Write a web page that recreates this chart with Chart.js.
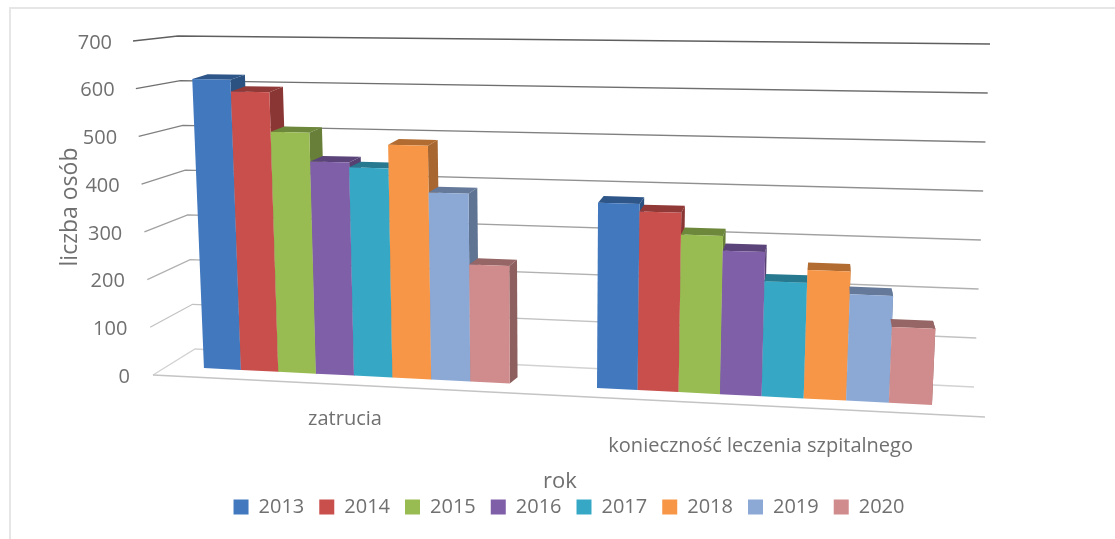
<!DOCTYPE html>
<html><head><meta charset="utf-8">
<style>html,body{margin:0;padding:0;background:#fff}canvas{display:block}</style>
<script src="https://cdn.jsdelivr.net/npm/chart.js@4"></script>
</head><body><canvas id="c" width="1115" height="539"></canvas>
<script>
const categories = ['zatrucia', 'konieczność leczenia szpitalnego'];
const years = ['2013','2014','2015','2016','2017','2018','2019','2020'];
const v2013 = [602, 370];
const v2014 = [578, 355];
const v2015 = [496, 312];
const v2016 = [437, 283];
const v2017 = [427, 226];
const v2018 = [475, 251];
const v2019 = [380, 207];
const v2020 = [237, 147];
const seriesValues = [v2013, v2014, v2015, v2016, v2017, v2018, v2019, v2020];
const colors = ['#4178BE','#C94F4C','#98BB52','#7F5FA8','#36A8C6','#F79646','#8CA9D6','#D08C8C'];

const FONT = '"Open Sans", sans-serif';
const TEXT = '#707070';

function shade(hex, f){
  const n = parseInt(hex.slice(1),16);
  return 'rgb('+[(n>>16)&255,(n>>8)&255,n&255].map(c=>Math.round(c*f)).join(',')+')';
}
// perspective view of the flat library layout
const floorX = u => 27.4 + 0.8763*u + 0.0001118*u*u;
const floorY = X => 368 + 0.0508*(X-204);
function project(u, hFlat){
  const X = floorX(u);
  const h = hFlat*(1+(X-153)*0.0001117);
  return [X+(X-550)*0.000117*h, floorY(X)-h];
}
const depth = p => [p[0]+20-0.024*p[0], p[1]-(5+0.004*(p[0]-200))];
function poly(ctx, pts, fill){
  ctx.beginPath();
  pts.forEach((p,i)=> i?ctx.lineTo(p[0],p[1]):ctx.moveTo(p[0],p[1]));
  ctx.closePath();
  ctx.fillStyle = fill; ctx.fill();
}
Chart.BarElement.prototype.draw = function(ctx){
  const {x,y,base,width} = this.getProps(['x','y','base','width'], true);
  const col = this.options.backgroundColor;
  const hf = base-y, l = x-width/2, r = x+width/2;
  const lb = project(l,0), rb = project(r,0), lt = project(l,hf), rt = project(r,hf);
  poly(ctx,[rt,rb,depth(rb),depth(rt)],shade(col,0.68));
  poly(ctx,[lt,rt,depth(rt),depth(lt)],shade(col,0.72));
  poly(ctx,[lt,rt,rb,lb],col);
};
const scene = {
  id:'scene',
  afterLayout(chart){
    chart.legend.left += 57; chart.legend.right += 57;
  },
  beforeDraw(chart){
    const c = chart.ctx;
    c.save();
    c.fillStyle='#fff'; c.fillRect(0,0,chart.width,chart.height);
    c.strokeStyle='#e6e6e6'; c.lineWidth=2;
    c.beginPath(); c.moveTo(10,539); c.lineTo(10,8); c.lineTo(1115,8); c.stroke();
    c.restore();
  },
  beforeDatasetsDraw(chart){
    const c = chart.ctx, ys = chart.scales.y, xs = chart.scales.x;
    const bottom = ys.getPixelForValue(0), top = ys.getPixelForValue(ys.max);
    c.save();
    ys.ticks.forEach(tk=>{
      const t = (bottom-ys.getPixelForValue(tk.value))/(bottom-top);
      const g = Math.round(95+115*(1-t));
      c.strokeStyle = 'rgb('+g+','+g+','+g+')'; c.lineWidth = 1.3;
      c.beginPath();
      c.moveTo(153-20*t, ys.getPixelForValue(tk.value)+1);
      c.lineTo(195-17*t, 349-313*t);
      c.lineTo(974+16*t, 387-343*t);
      c.stroke();
      c.fillStyle = TEXT; c.font = '20px '+FONT;
      c.textAlign='right'; c.textBaseline='middle';
      c.fillText(String(tk.value), 130-18*t, ys.getPixelForValue(tk.value)+3);
    });
    c.strokeStyle='#c4c4c4'; c.lineWidth=1.3;
    c.beginPath(); c.moveTo(153,375); c.lineTo(985,417); c.stroke();
    // category labels follow the sloped floor
    c.fillStyle = TEXT; c.font='20px '+FONT; c.textAlign='center'; c.textBaseline='middle';
    categories.forEach((name,i)=>{
      const X = floorX(xs.getPixelForTick(i));
      c.fillText(name, i? X-1 : X-9, i? 446 : 419);
    });
    for(let i=0;i<chart.data.datasets.length;i++) chart.getDatasetMeta(i).controller.draw();
    c.restore();
    return false;
  }
};
new Chart(document.getElementById('c'),{
  type:'bar',
  data:{labels:categories,datasets:years.map((y,i)=>({label:y,data:seriesValues[i],backgroundColor:colors[i],borderWidth:0}))},
  plugins:[scene],
  options:{
    responsive:false,animation:false,devicePixelRatio:1,
    layout:{padding:{left:57,right:148,top:40,bottom:12}},
    datasets:{bar:{barPercentage:1,categoryPercentage:0.786}},
    plugins:{
      tooltip:{enabled:false},
      legend:{position:'bottom',labels:{boxWidth:15,boxHeight:15,padding:15,color:TEXT,font:{family:FONT,size:20}}}
    },
    scales:{
      x:{grid:{display:false},border:{display:false},ticks:{display:false},
         title:{display:true,text:'rok',color:TEXT,font:{family:FONT,size:22},padding:{top:0,bottom:-13}},
         afterFit(s){ s.height = 108; }},
      y:{min:0,max:700,grid:{display:false},border:{display:false},ticks:{display:false,stepSize:100},
         title:{display:true,text:'liczba osób',color:TEXT,font:{family:FONT,size:23},padding:0},
         afterFit(s){ s.width = 96; }}
    }
  }
});
</script></body></html>
